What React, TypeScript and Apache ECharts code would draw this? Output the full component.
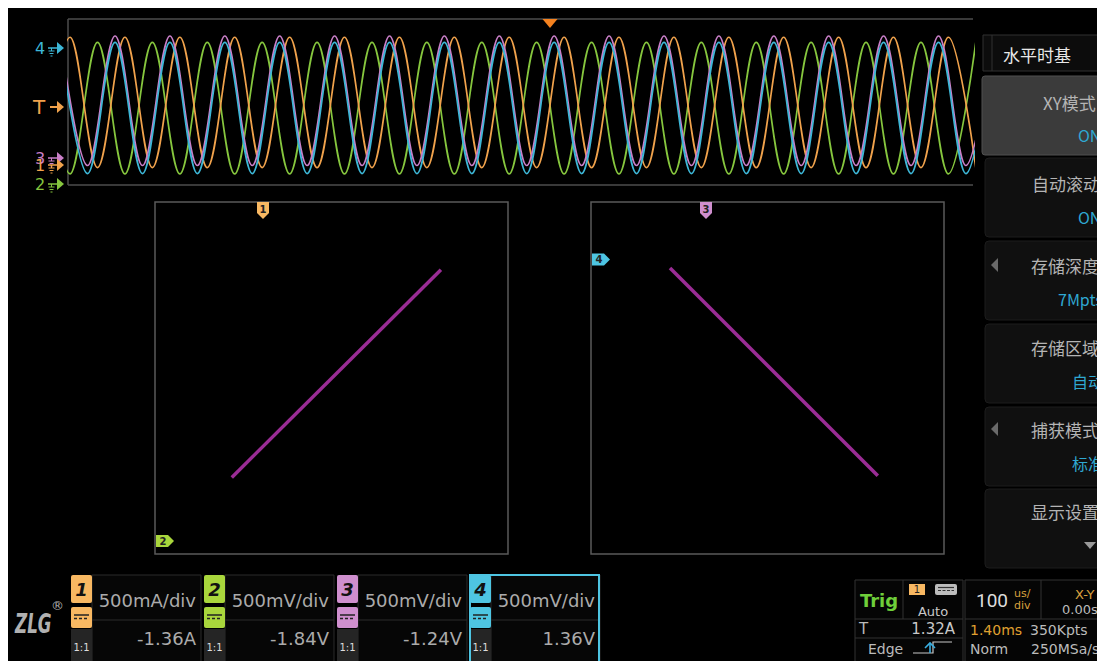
import React, { useEffect, useRef } from 'react';
import * as echarts from 'echarts';

// ---------- data ----------
// top panel: times (µs, 100 µs/div, 10 div) of the extremes of each trace
const ch12Times = [
  -28.1, 2.2, 32.6, 62.9, 93.2, 123.6, 153.9, 184.2, 214.5, 244.9,
  275.2, 305.5, 335.9, 366.2, 396.5, 426.9, 457.2, 487.5, 517.8, 548.2,
  578.5, 608.8, 639.2, 669.5, 699.8, 730.2, 760.5, 790.8, 821.1, 851.5,
  881.8, 912.1, 942.5, 972.8, 1003.1,
];
const ch34Times = [
  -8.7, 21.6, 52.0, 82.3, 112.6, 143.0, 173.3, 203.6, 233.9, 264.3,
  294.6, 324.9, 355.3, 385.6, 415.9, 446.3, 476.6, 506.9, 537.2, 567.6,
  597.9, 628.2, 658.6, 688.9, 719.2, 749.6, 779.9, 810.2, 840.5, 870.9,
  901.2, 931.5, 961.9, 992.2, 1022.5,
];
// levels in screen divisions
const ch1Levels = [
  -3.16, 3.12, -3.16, 3.12, -3.16, 3.12, -3.16, 3.12, -3.16, 3.12,
  -3.16, 3.12, -3.16, 3.12, -3.16, 3.12, -3.16, 3.12, -3.16, 3.12,
  -3.16, 3.12, -3.16, 3.12, -3.16, 3.12, -3.16, 3.12, -3.16, 3.12,
  -3.16, 3.12, -3.16, 3.12, -3.16,
];
const ch2Levels = [
  2.87, -3.46, 2.87, -3.46, 2.87, -3.46, 2.87, -3.46, 2.87, -3.46,
  2.87, -3.46, 2.87, -3.46, 2.87, -3.46, 2.87, -3.46, 2.87, -3.46,
  2.87, -3.46, 2.87, -3.46, 2.87, -3.46, 2.87, -3.46, 2.87, -3.46,
  2.87, -3.46, 2.87, -3.46, 2.87,
];
const ch3Levels = [
  3.18, -3.06, 3.18, -3.06, 3.18, -3.06, 3.18, -3.06, 3.18, -3.06,
  3.18, -3.06, 3.18, -3.06, 3.18, -3.06, 3.18, -3.06, 3.18, -3.06,
  3.18, -3.06, 3.18, -3.06, 3.18, -3.06, 3.18, -3.06, 3.18, -3.06,
  3.18, -3.06, 3.18, -3.06, 3.18,
];
const ch4Levels = [
  2.87, -3.45, 2.87, -3.45, 2.87, -3.45, 2.87, -3.45, 2.87, -3.45,
  2.87, -3.45, 2.87, -3.45, 2.87, -3.45, 2.87, -3.45, 2.87, -3.45,
  2.87, -3.45, 2.87, -3.45, 2.87, -3.45, 2.87, -3.45, 2.87, -3.45,
  2.87, -3.45, 2.87, -3.45, 2.87,
];
// XY traces (divisions)
const xy1X = [-2.26, 2.48];
const xy1Y = [-2.26, 2.46];
const xy2X = [-2.21, 2.5];
const xy2Y = [2.5, -2.22];

// texts
const channelNames = ['1', '2', '3', '4'];
const channelScales = ['500mA/div', '500mV/div', '500mV/div', '500mV/div'];
const channelOffsets = ['-1.36A', '-1.84V', '-1.24V', '1.36V'];
const channelProbes = ['1:1', '1:1', '1:1', '1:1'];
const menuTitle = '水平时基';
const menuLabels = ['XY模式', '自动滚动', '存储深度', '存储区域', '捕获模式', '显示设置'];
const menuValues = ['ON', 'ON', '7Mpts', '自动', '标准'];

// ---------- styling ----------
const WAVE = ['#f0a24c', '#86c63e', '#c97fc8', '#3db7d7'];
const BADGE = ['#f8b862', '#a9d63c', '#cf8fce', '#4ec5e2'];
const FONT = '"DejaVu Sans", "Noto Sans CJK SC", sans-serif';
const CJK = '"Noto Sans CJK SC", "DejaVu Sans", sans-serif';
const O = 8; // page offset (body margin)

type Opt = { align?: string; weight?: string; italic?: boolean; family?: string; scaleX?: number };
function txt(x: number, y: number, s: string, size: number, color: string, o: Opt = {}) {
  const align = o.align || 'left';
  const el: any = {
    type: 'text',
    x: x - O,
    y: y - O,
    silent: true,
    style: {
      text: s,
      fill: color,
      font: `${o.italic ? 'italic ' : ''}${o.weight || 'normal'} ${size}px ${o.family || FONT}`,
      align,
      verticalAlign: 'middle',
      textAlign: align,
      textVerticalAlign: 'middle',
    },
  };
  if (o.scaleX) el.scaleX = o.scaleX;
  return el;
}
function rect(x: number, y: number, w: number, h: number, fill: string, stroke?: string, lw = 1, r = 0) {
  return {
    type: 'rect',
    silent: true,
    shape: { x: x - O, y: y - O, width: w, height: h, r },
    style: { fill, stroke: stroke || 'none', lineWidth: stroke ? lw : 0 },
  };
}
function ln(x1: number, y1: number, x2: number, y2: number, color: string, lw = 1, dash?: number[]) {
  return {
    type: 'line',
    silent: true,
    shape: { x1: x1 - O, y1: y1 - O, x2: x2 - O, y2: y2 - O },
    style: { stroke: color, lineWidth: lw, lineDash: dash || null },
  };
}
function poly(pts: number[][], fill: string) {
  return {
    type: 'polygon',
    silent: true,
    shape: { points: pts.map((p) => [p[0] - O, p[1] - O]) },
    style: { fill },
  };
}
function polyline(pts: number[][], color: string, lw = 1) {
  return {
    type: 'polyline',
    silent: true,
    shape: { points: pts.map((p) => [p[0] - O, p[1] - O]) },
    style: { stroke: color, lineWidth: lw, fill: 'none' },
  };
}

function levelMarker(label: string, color: string, yc: number, big = false): any[] {
  const els: any[] = [];
  if (big) {
    els.push(txt(33, yc, label, 20, color));
    els.push(ln(50, yc, 58, yc, color, 2));
  } else {
    els.push(txt(35, yc, label, 16, color));
    els.push(ln(48, yc, 58, yc, color, 1.5));
    els.push(ln(51.5, yc, 51.5, yc + 3, color, 1));
    els.push(ln(48.5, yc + 3, 54.5, yc + 3, color, 1));
    els.push(ln(49.5, yc + 5.5, 53.5, yc + 5.5, color, 1));
    els.push(ln(50.5, yc + 8, 52.5, yc + 8, color, 1));
  }
  els.push(poly([[57, yc - 6], [64, yc], [57, yc + 6]], color));
  return els;
}
function downTag(cx: number, y0: number, label: string, color: string) {
  return [
    poly([[cx - 6, y0], [cx + 6, y0], [cx + 6, y0 + 11], [cx, y0 + 17], [cx - 6, y0 + 11]], color),
    txt(cx, y0 + 7, label, 10, '#222', { align: 'center', weight: 'bold' }),
  ];
}
function rightTag(x0: number, cy: number, label: string, color: string) {
  return [
    poly([[x0, cy - 6], [x0 + 12, cy - 6], [x0 + 18, cy], [x0 + 12, cy + 6], [x0, cy + 6]], color),
    txt(x0 + 7, cy, label, 10, '#222', { align: 'center', weight: 'bold' }),
  ];
}

function buildGraphics(): any[] {
  const g: any[] = [];
  // top frame
  g.push(ln(68, 19, 973, 19, '#4c4c4c', 1.5));
  g.push(ln(68, 185, 973, 185, '#4c4c4c', 1.5));
  g.push(ln(68, 19, 68, 185, '#4c4c4c', 1.5));
  // trigger position
  g.push(poly([[542.5, 19], [557.5, 19], [550, 28]], '#f5821f'));
  // level markers
  g.push(...levelMarker('4', WAVE[3], 48));
  g.push(...levelMarker('T', WAVE[0], 107, true));
  g.push(...levelMarker('3', WAVE[2], 158));
  g.push(...levelMarker('1', WAVE[0], 165));
  g.push(...levelMarker('2', WAVE[1], 184));
  // XY tags
  g.push(...downTag(263, 202, '1', BADGE[0]));
  g.push(...rightTag(156, 541, '2', BADGE[1]));
  g.push(...downTag(706, 202, '3', BADGE[2]));
  g.push(...rightTag(592, 259.5, '4', BADGE[3]));

  // right menu
  g.push(rect(983, 35, 130, 36, '#0c0c0c', '#303030'));
  g.push(ln(992, 35, 992, 71, '#303030'));
  g.push(txt(1003, 54, menuTitle, 17, '#e8e8e8', { family: CJK }));
  const tops = [76, 158, 241, 324, 407, 489];
  const labelY = [102, 183, 265, 347, 429, 511];
  const labelX = [1043, 1032, 1031, 1031, 1031, 1031];
  const valueY = [135, 217, 299, 381, 463];
  const valueX = [1078, 1078, 1058, 1072, 1072];
  tops.forEach((t, i) => {
    if (i === 0) g.push(rect(982, t, 130, 79, '#3b3b3b', '#505050', 1, 3));
    else g.push(rect(985, t, 130, 79, '#101010', '#1c1c1c', 1, 4));
  });
  menuLabels.forEach((s, i) => g.push(txt(labelX[i], labelY[i], s, 17, '#b4b4b4', { family: CJK })));
  menuValues.forEach((s, i) => g.push(txt(valueX[i], valueY[i], s, 16, '#2fa8d2', { family: CJK })));
  g.push(poly([[998, 258], [998, 272], [991, 265]], '#6a6a6a'));
  g.push(poly([[998, 422], [998, 436], [991, 429]], '#6a6a6a'));
  g.push(poly([[1084, 542], [1096, 542], [1090, 549]], '#9a9a9a'));

  // logo
  g.push(txt(15, 623, 'ZLG', 27, '#b0b0b0', { weight: 'bold', italic: true, scaleX: 0.62 }));
  g.push(txt(51, 605, '®', 13, '#b0b0b0'));

  // channel boxes
  channelNames.forEach((n, i) => {
    const bx = 71 + 133 * i;
    const c = BADGE[i];
    g.push(rect(bx + 21, 575, 109, 90, '#060606', '#2a2a2a'));
    g.push(ln(bx + 21, 620, bx + 130, 620, '#2a2a2a'));
    g.push(rect(bx, 575, 21, 28, c, undefined, 0, 2));
    g.push(txt(bx + 10.5, 589.5, n, 18, '#111', { align: 'center', weight: 'bold', italic: true }));
    g.push(rect(bx, 607, 21, 21, c, undefined, 0, 2));
    g.push(ln(bx + 3, 615, bx + 18, 615, '#222', 1.5));
    g.push(ln(bx + 3, 618.5, bx + 18, 618.5, '#222', 1.5, [3, 2]));
    g.push(rect(bx, 629, 21, 40, '#252525'));
    g.push(txt(bx + 10.5, 647, channelProbes[i], 10, '#dddddd', { align: 'center' }));
    g.push(txt(bx + 125, 600, channelScales[i], 18, '#ababab', { align: 'right' }));
    g.push(txt(bx + 125, 638, channelOffsets[i], 18, '#ababab', { align: 'right' }));
    if (i === 3) g.push(rect(bx, 575, 129, 92, 'none', BADGE[3], 2));
  });

  // trigger box
  g.push(rect(855, 580, 108, 85, '#050505', '#333333'));
  g.push(ln(903, 580, 903, 619, '#333333'));
  g.push(ln(855, 619, 963, 619, '#333333'));
  g.push(ln(855, 638, 963, 638, '#333333'));
  g.push(txt(879, 600, 'Trig', 18, '#6fcf3a', { align: 'center', weight: 'bold' }));
  g.push(rect(909, 584, 16, 11, BADGE[0]));
  g.push(txt(917, 589.5, '1', 10, '#222', { align: 'center' }));
  g.push(rect(935, 584, 22, 11, '#bdbdbd', undefined, 0, 2));
  g.push(ln(938, 587.5, 954, 587.5, '#333', 1.2));
  g.push(ln(938, 590.5, 954, 590.5, '#333', 1.2, [3, 1.5]));
  g.push(txt(933, 611, 'Auto', 13, '#c8c8c8', { align: 'center' }));
  g.push(txt(859, 629, 'T', 15, '#bbbbbb'));
  g.push(txt(955, 629, '1.32A', 15, '#c8c8c8', { align: 'right' }));
  g.push(txt(868, 649, 'Edge', 14, '#bbbbbb'));
  g.push(polyline([[913, 653], [933, 653], [933, 642], [952, 642]], '#c8c8c8', 1.2));
  g.push(polyline([[925, 648], [930, 643], [935, 648]], '#3aaee0', 1.6));
  g.push(ln(930, 643, 930, 653, '#3aaee0', 1.6));

  // timebase box
  g.push(rect(965, 580, 140, 85, '#050505', '#333333'));
  g.push(ln(1041, 580, 1041, 619, '#333333'));
  g.push(ln(965, 619, 1100, 619, '#333333'));
  g.push(txt(976, 600, '100', 19, '#dddddd', { family: 'Roboto, "DejaVu Sans", sans-serif' }));
  g.push(txt(1014, 593, 'us/', 11, '#d9a03e'));
  g.push(txt(1014, 605, 'div', 11, '#d9a03e'));
  g.push(txt(1075, 594, 'X-Y', 13, '#d9a03e'));
  g.push(txt(1062, 609, '0.00s', 13, '#bbbbbb'));
  g.push(txt(970, 630, '1.40ms', 14, '#e0a030'));
  g.push(txt(1030, 630, '350Kpts', 14, '#bbbbbb'));
  g.push(txt(970, 649, 'Norm', 14, '#bbbbbb'));
  g.push(txt(1031, 649, '250MSa/s', 14, '#bbbbbb'));
  return g;
}

function wave(name: string, times: number[], levels: number[], color: string) {
  return {
    type: 'line',
    name,
    xAxisIndex: 0,
    yAxisIndex: 0,
    data: times.map((t, i) => [t, levels[i]]),
    smooth: 0.36,
    symbol: 'none',
    showSymbol: false,
    clip: true,
    silent: true,
    lineStyle: { color, width: 1.7 },
    z: 3,
  };
}

function buildOption(): any {
  return {
    animation: false,
    backgroundColor: '#000',
    grid: [
      { left: 60, top: 11, width: 905, height: 166, show: false },
      { left: 147, top: 194, width: 353, height: 352, show: true, borderColor: '#5a5a5a', borderWidth: 1.5, backgroundColor: 'transparent' },
      { left: 583, top: 194, width: 353, height: 352, show: true, borderColor: '#5a5a5a', borderWidth: 1.5, backgroundColor: 'transparent' },
    ],
    xAxis: [
      { type: 'value', gridIndex: 0, min: 0, max: 1000, show: false },
      { type: 'value', gridIndex: 1, min: -4, max: 4, show: false },
      { type: 'value', gridIndex: 2, min: -4, max: 4, show: false },
    ],
    yAxis: [
      { type: 'value', gridIndex: 0, min: -4, max: 4, show: false },
      { type: 'value', gridIndex: 1, min: -4, max: 4, show: false },
      { type: 'value', gridIndex: 2, min: -4, max: 4, show: false },
    ],
    graphic: { elements: buildGraphics() },
    series: [
      wave('CH2', ch12Times, ch2Levels, WAVE[1]),
      wave('CH1', ch12Times, ch1Levels, WAVE[0]),
      wave('CH3', ch34Times, ch3Levels, WAVE[2]),
      wave('CH4', ch34Times, ch4Levels, WAVE[3]),
      {
        type: 'line', name: 'XY1', xAxisIndex: 1, yAxisIndex: 1,
        data: xy1X.map((x, i) => [x, xy1Y[i]]),
        symbol: 'none', silent: true,
        lineStyle: { color: '#9a2c95', width: 3.5 },
      },
      {
        type: 'line', name: 'XY2', xAxisIndex: 2, yAxisIndex: 2,
        data: xy2X.map((x, i) => [x, xy2Y[i]]),
        symbol: 'none', silent: true,
        lineStyle: { color: '#9a2c95', width: 3.5 },
      },
    ],
  };
}

export default function App() {
  const ref = useRef<HTMLDivElement>(null);
  useEffect(() => {
    // keep the 8px top/left page margin, let the screen run to the right and bottom edges
    document.body.style.margin = '8px 0 0 8px';
    const chart = echarts.init(ref.current as HTMLDivElement, null, { renderer: 'svg' });
    chart.setOption(buildOption());
    return () => chart.dispose();
  }, []);
  return <div ref={ref} style={{ width: 1089, height: 653, background: '#000', overflow: 'hidden' }} />;
}
